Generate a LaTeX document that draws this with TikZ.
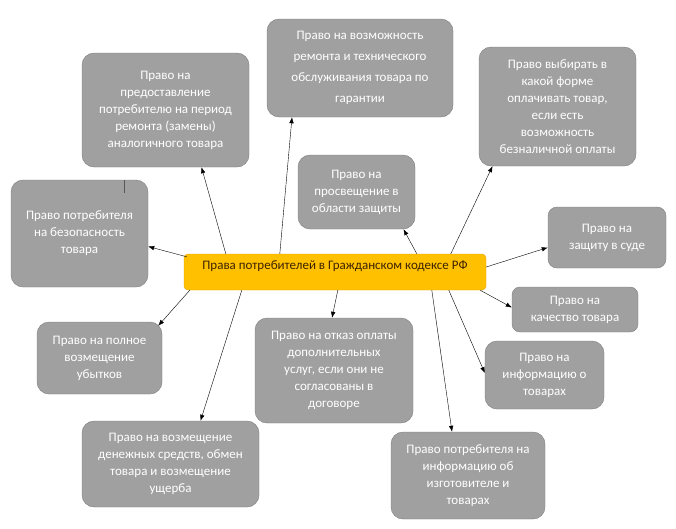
\documentclass[tikz,border=0pt]{standalone}
\usepackage{fontspec}
\setmainfont{Carlito}
\usetikzlibrary{positioning, calc, arrows.meta}
\definecolor{boxfill}{RGB}{160,160,160}
\definecolor{boxline}{RGB}{125,125,125}
\definecolor{mainfill}{RGB}{255,192,0}
\definecolor{mainline}{RGB}{225,160,0}
\definecolor{maintext}{RGB}{60,35,0}

\begin{document}
\begin{tikzpicture}[x=1pt, y=-1pt,
		right/.style={draw=boxline, fill=boxfill, rounded corners=12pt, text=white, align=center, inner sep=2pt, font={\fontsize{13pt}{17pt}\selectfont}},
		code/.style={draw=mainline, fill=mainfill, rounded corners=4pt, text=maintext, inner sep=2pt, font={\fontsize{13pt}{17pt}\selectfont}},
		arr/.style={thin, -{Latex[length=6pt, width=4.5pt]}}]
		\useasboundingbox (0, 0) rectangle (676, 528);
		\node[code, minimum width=302pt, minimum height=36pt, text height=8pt, text depth=13pt] (rf) at (335, 272) {Права потребителей в Гражданском кодексе РФ};
		\node[right, minimum width=167pt, minimum height=114pt] (zamena) at (165.5, 110) {Право на\\предоставление\\потребителю на период\\ремонта (замены)\\аналогичного товара};
		\node[right, minimum width=186pt, minimum height=98pt, font={\fontsize{13pt}{21pt}\selectfont}] (remont) at (360, 68) {Право на возможность\\ремонта и технического\\обслуживания товара по\\гарантии};
		\node[right, minimum width=157pt, minimum height=119pt] (oplata) at (557.5, 106.5) {Право выбирать в\\какой форме\\оплачивать товар,\\если есть\\возможность\\безналичной оплаты};
		\node[right, minimum width=117pt, minimum height=74pt] (prosv) at (356.5, 192) {Право на\\просвещение в\\области защиты};
		\node[right, minimum width=137pt, minimum height=107pt] (bezop) at (79.5, 233.5) {Право потребителя\\на безопасность\\товара};
		\node[right, minimum width=118pt, minimum height=61pt, rounded corners=9pt] (sud) at (607, 237.5) {Право на\\защиту в суде};
		\node[right, minimum width=126pt, minimum height=45pt, rounded corners=8pt] (kachestvo) at (575, 309.5) {Право на\\качество товара};
		\node[right, minimum width=119pt, minimum height=68pt] (info) at (544.5, 375) {Право на\\информацию о\\товарах};
		\node[right, minimum width=158pt, minimum height=105pt] (otkaz) at (334, 370.5) {Право на отказ оплаты\\дополнительных\\услуг, если они не\\согласованы в\\договоре};
		\node[right, minimum width=154pt, minimum height=87pt] (izgot) at (468, 475.5) {Право потребителя на\\информацию об\\изготовителе и\\товарах};
		\node[right, minimum width=125pt, minimum height=72pt] (ubytki) at (99.5, 358) {Право на полное\\возмещение\\убытков};
		\node[right, minimum width=177pt, minimum height=86pt] (ushcherb) at (170.5, 464) {Право на возмещение\\денежных средств, обмен\\товара и возмещение\\ущерба};
		\draw[boxline!70!black] (124, 180) -- (124, 193);
		\draw[arr] ([xshift=42pt]rf.north west) -- ([xshift=36pt]zamena.south);
		\draw[arr] ([xshift=96pt]rf.north west) -- ([xshift=-68pt]remont.south);
		\draw[arr] ([xshift=233pt]rf.north west) -- ([xshift=47pt]prosv.south);
		\draw[arr] ([xshift=267pt]rf.north west) -- ([xshift=-65pt]oplata.south);
		\draw[arr] ([yshift=5pt]rf.east) -- ([yshift=-10pt]sud.west);
		\draw[arr] ([xshift=3pt, yshift=-3pt]rf.north west) -- ([yshift=-13pt]bezop.east);
		\draw[arr] ([xshift=6pt]rf.south west) -- ([xshift=-4pt, yshift=-4pt]ubytki.north east);
		\draw[arr] ([xshift=58pt]rf.south west) -- ([xshift=30pt]ushcherb.north);
		\draw[arr] ([xshift=154pt]rf.south west) -- ([xshift=-2pt]otkaz.north);
		\draw[arr] ([xshift=248pt]rf.south west) -- ([xshift=-16pt]izgot.north);
		\draw[arr] ([xshift=265pt]rf.south west) -- ([yshift=2pt]info.west);
		\draw[arr] ([xshift=-6pt]rf.south east) -- ([yshift=2pt]kachestvo.west);
\end{tikzpicture}
\end{document}
